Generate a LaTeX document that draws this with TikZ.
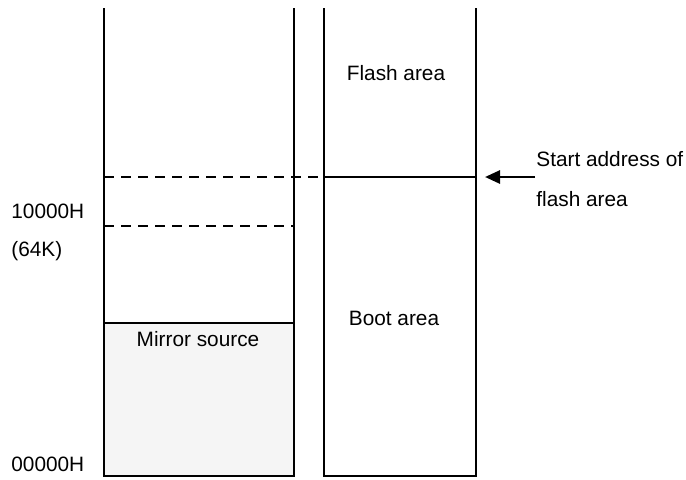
\documentclass[tikz,border=0pt]{standalone}
\usepackage{fontspec}
\setmainfont{Liberation Sans}
\usetikzlibrary{arrows.meta}
\begin{document}
\begin{tikzpicture}[x=0.5pt,y=-0.5pt]
	\tikzstyle{wall} = [line width=1.35pt]
	\tikzstyle{cut} = [line width=0.9pt, dash pattern=on 5pt off 3.5pt]
	\tikzstyle{lbl} = [font=\fontsize{10.4}{12}\selectfont, inner sep=0]
	\useasboundingbox (0,0) rectangle (686,479);

	% left column
	\fill [black!4] (104,323) rectangle (294,476);
	\draw [wall] (104,8) -- (104,476) -- (294,476) -- (294,8);
	\draw [wall] (104,323) -- (294,323);
	\draw [cut] (104,177) -- (323,177);
	\draw [cut] (104,226) -- (294,226);

	% right column
	\draw [wall] (324,8) -- (324,476) -- (476,476) -- (476,8);
	\draw [wall] (324,177) -- (476,177);

	\node [lbl] (flash) at (396,73) {Flash area};
	\node [lbl] (boot) at (394,318) {Boot area};
	\node [lbl] (mirror) at (198,339) {Mirror source};

	\node [lbl,anchor=west] (top) at (11,211) {10000H};
	\node [lbl,anchor=west] (kb) at (11,251) {(64K)};
	\node [lbl,anchor=west] (bot) at (11,464) {00000H};

	\node [lbl,anchor=west] (start) at (536,159) {Start address of};
	\node [lbl,anchor=west] (start2) at (536,199) {flash area};

	\coordinate (tip) at (485,177);
	\coordinate (tail) at (535,177);
	\draw [line width=1.35pt, -{Triangle[length=7.5pt,width=6.5pt]}] (tail) -- (tip);
\end{tikzpicture}
\end{document}
